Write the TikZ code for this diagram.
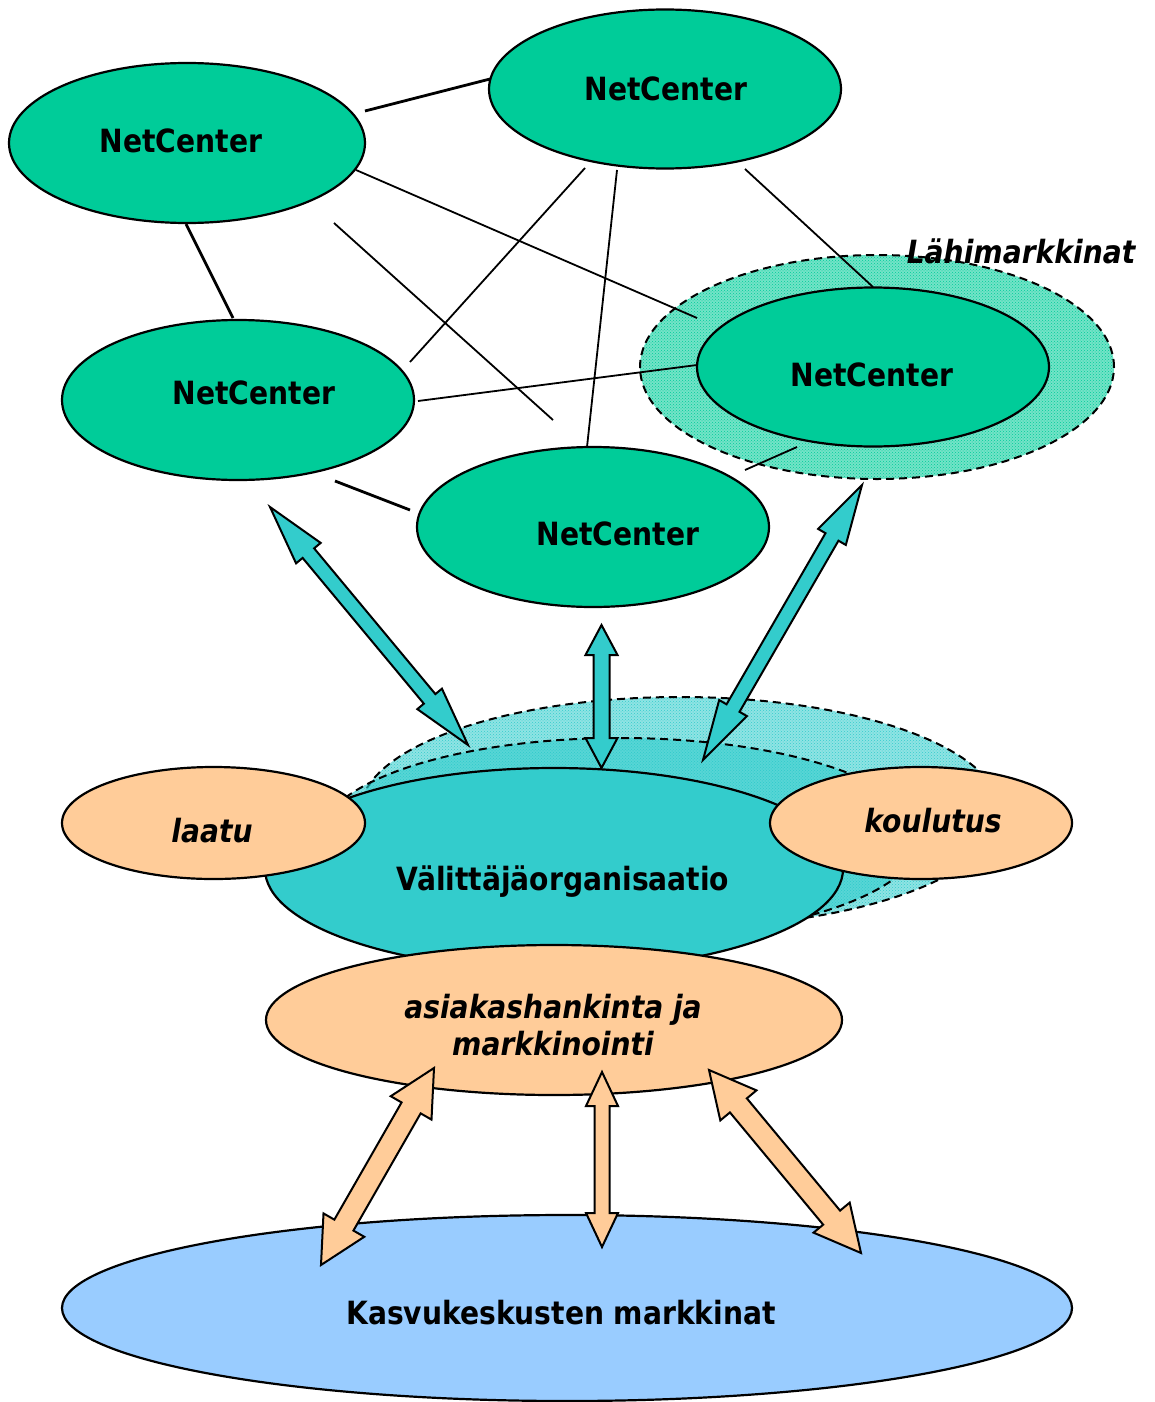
\documentclass[tikz,border=0pt]{standalone}
\usepackage{fontspec}
\setmainfont{DejaVu Sans}[FakeStretch=0.88]
\usetikzlibrary{shapes.geometric,patterns,calc}
\definecolor{ncgreen}{HTML}{00CC99}
\definecolor{tealc}{HTML}{33CCCC}
\definecolor{peach}{HTML}{FFCC99}
\definecolor{skyb}{HTML}{99CCFF}
\newcommand\dblarrow[6]{%
  \coordinate (hA) at ($(#1)!#5!(#2)$);
  \coordinate (hB) at ($(#2)!#5!(#1)$);
  \draw[#6] (#1) -- ($(hA)!#4!90:(#2)$) -- ($(hA)!#3!90:(#2)$)
    -- ($(hB)!#3!-90:(#1)$) -- ($(hB)!#4!-90:(#1)$) -- (#2)
    -- ($(hB)!#4!90:(#1)$) -- ($(hB)!#3!90:(#1)$)
    -- ($(hA)!#3!-90:(#2)$) -- ($(hA)!#4!-90:(#2)$) -- cycle;}
\tikzset{
  ell/.style={ellipse, draw, line width=2.2pt, inner sep=0pt},
  nc/.style={ell, fill=ncgreen, minimum width=352pt, minimum height=159pt},
  lbl/.style={font=\fontsize{32}{37}\selectfont\bfseries, inner sep=0pt, anchor=base},
  ilbl/.style={font=\fontsize{32}{37}\selectfont\bfseries\itshape, inner sep=0pt, anchor=base},
  link/.style={line width=1.8pt},
  thicklink/.style={line width=2.8pt},
  dashedge/.style={draw, dash pattern=on 8pt off 5pt, line width=2pt},
  tealarrow/.style={draw, fill=tealc, line width=2pt, line join=miter},
  peacharrow/.style={draw, fill=peach, line width=2pt, line join=miter}
}
\begin{document}
\begin{tikzpicture}[x=1pt,y=-1pt]
\useasboundingbox (0,0) rectangle (1155,1402);

% Lähimarkkinat zone
\node[ellipse, inner sep=0pt, minimum width=474pt, minimum height=224pt,
  preaction={fill=ncgreen!55!white}, pattern=crosshatch dots, pattern color=ncgreen,
  dashedge] (lahi) at (877,367) {};

% link end points
\coordinate (c1a) at (365,111); \coordinate (c1b) at (490,79);
\coordinate (c2a) at (186,224); \coordinate (c2b) at (233,318);
\coordinate (c3a) at (356,170); \coordinate (c3b) at (697,318);
\coordinate (c4a) at (334,223); \coordinate (c4b) at (553,420);
\coordinate (c5a) at (585,168); \coordinate (c5b) at (410,362);
\coordinate (c6a) at (617,170); \coordinate (c6b) at (587,447);
\coordinate (c7a) at (745,169); \coordinate (c7b) at (873,287);
\coordinate (c8a) at (418,401); \coordinate (c8b) at (697,365);
\coordinate (c9a) at (335,481); \coordinate (c9b) at (410,510);
\coordinate (c10a) at (745,470); \coordinate (c10b) at (797,447);
\draw[thicklink] (c1a) -- (c1b);
\draw[thicklink] (c2a) -- (c2b);
\draw[link] (c3a) -- (c3b);
\draw[link] (c4a) -- (c4b);
\draw[link] (c5a) -- (c5b);
\draw[link] (c6a) -- (c6b);
\draw[link] (c7a) -- (c7b);
\draw[link] (c8a) -- (c8b);
\draw[thicklink] (c9a) -- (c9b);
\draw[link] (c10a) -- (c10b);

% NetCenters
\node[nc, minimum width=356pt, minimum height=160pt] (n1) at (187,143) {};
\node[nc] (n2) at (665,89) {};
\node[nc, minimum height=160pt] (n3) at (238,400) {};
\node[nc] (n4) at (873,367) {};
\node[nc, minimum height=160pt] (n5) at (593,527) {};
\node[lbl] (t1) at (181,153) {NetCenter};
\node[lbl] (t2) at (666,101) {NetCenter};
\node[lbl] (t3) at (254,404) {NetCenter};
\node[lbl] (t4) at (872,386) {NetCenter};
\node[lbl] (t5) at (618,545) {NetCenter};
\node[ilbl] (tlahi) at (1021,263) {Lähimarkkinat};

% textured zones behind Välittäjäorganisaatio
\node[ellipse, inner sep=0pt, minimum width=640pt, minimum height=230pt,
  preaction={fill=tealc, fill opacity=0.55}, pattern=crosshatch dots, pattern color=tealc,
  dashedge] (zoneA) at (680,812) {};
\node[ellipse, inner sep=0pt, minimum width=600pt, minimum height=200pt,
  preaction={fill=tealc, fill opacity=0.6}, pattern=crosshatch dots, pattern color=tealc,
  dashedge] (zoneB) at (620,838) {};

% Välittäjäorganisaatio
\node[ell, fill=tealc, minimum width=578pt, minimum height=202pt] (valit) at (554,869) {};
\node[lbl] (tvalit) at (563,890) {Välittäjäorganisaatio};

% teal double arrows
\coordinate (a1a) at (270,507); \coordinate (a1b) at (468,745);
\coordinate (a2a) at (601.5,625); \coordinate (a2b) at (601.5,768);
\coordinate (a3a) at (862,485); \coordinate (a3b) at (703,760);
\dblarrow{a1a}{a1b}{7.5pt}{16pt}{60pt}{tealarrow}
\dblarrow{a2a}{a2b}{8pt}{16pt}{30pt}{tealarrow}
\dblarrow{a3a}{a3b}{7.5pt}{16pt}{60pt}{tealarrow}

% side topics
\node[ell, fill=peach, minimum width=303pt, minimum height=112pt] (laatu) at (213.5,823) {};
\node[ilbl] (tlaatu) at (212,842) {laatu};
\node[ell, fill=peach, minimum width=302pt, minimum height=112pt] (koul) at (921,823) {};
\node[ilbl] (tkoul) at (933,832) {koulutus};

% markets
\node[ell, fill=skyb, minimum width=1010pt, minimum height=186pt] (kasvu) at (567,1308) {};
\node[lbl] (tkasvu) at (561,1324) {Kasvukeskusten markkinat};

% asiakashankinta
\node[ell, fill=peach, minimum width=576pt, minimum height=150pt] (asiak) at (554,1020) {};
\node[ilbl, align=center] (tasiak) at (553,1055) {asiakashankinta ja\\markkinointi};

% peach double arrows
\coordinate (p1a) at (434,1068); \coordinate (p1b) at (321,1265);
\coordinate (p2a) at (602,1072); \coordinate (p2b) at (602,1247);
\coordinate (p3a) at (709,1070); \coordinate (p3b) at (861,1253);
\dblarrow{p1a}{p1b}{11pt}{23.5pt}{46pt}{peacharrow}
\dblarrow{p2a}{p2b}{7.5pt}{16pt}{34pt}{peacharrow}
\dblarrow{p3a}{p3b}{11pt}{23.5pt}{46pt}{peacharrow}
\end{tikzpicture}
\end{document}
